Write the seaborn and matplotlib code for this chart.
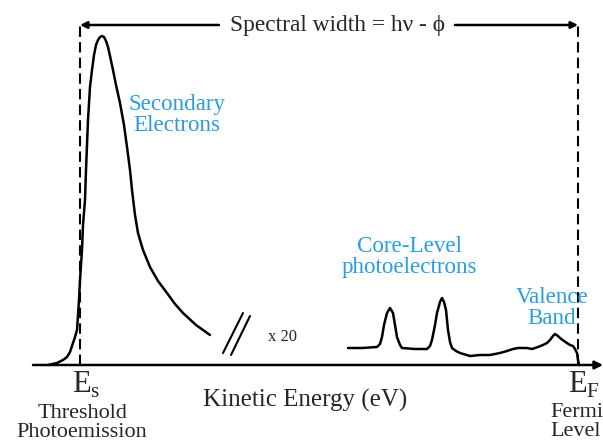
import matplotlib
matplotlib.use("Agg")
import matplotlib.pyplot as plt
import seaborn as sns

# kinetic energy (arbitrary units) and intensity
sec_energy = [48, 57, 63, 67, 70, 73, 75, 77, 78, 79, 80, 82, 83, 85, 86, 88, 90, 92,
              94, 96, 98, 100, 102, 104, 106, 108, 110, 113, 116, 120, 124, 127, 130,
              132, 135, 138, 143, 150, 158, 167, 175, 183, 196, 210]
sec_counts = [0, 2, 5, 8, 13, 22, 28, 35, 50, 65, 85, 115, 140, 165, 195, 245, 278, 295,
              310, 320, 325, 328, 329, 328, 324, 318, 309, 295, 280, 262, 240, 218, 195,
              175, 150, 132, 115, 98, 84, 72, 61, 52, 40, 30]

core_energy = [348, 362, 377, 380, 382, 384, 387, 390, 393, 395, 397, 400, 402, 415,
               427, 430, 432, 435, 437, 440, 442, 444, 446, 448, 450, 452, 456, 460,
               470, 480, 490, 500, 507, 513, 518, 522, 527, 532, 538, 543, 547, 550,
               553, 555, 558, 560, 564, 567, 570, 573, 575, 577, 578, 579]
core_counts = [17, 17, 18, 21, 28, 40, 52, 57, 52, 40, 28, 20, 17, 16,
               16, 19, 25, 40, 52, 63, 67, 63, 55, 35, 23, 17, 14, 12,
               9, 10, 10, 12, 14, 16, 17, 17, 17, 16, 18, 20, 22, 25,
               29, 31, 29, 27, 24, 22, 20, 19, 16, 12, 5, 0]

e_threshold = 80
e_fermi = 578
axis_start, axis_end = 33, 603
top_level = 340

# axis break marks "//"
break_x = [[223, 243], [231, 250]]
break_y = [[12, 52], [10, 49]]

blue = "#2a9de0"

sns.set_theme(style="white")
plt.rcParams["font.family"] = ["Liberation Serif", "DejaVu Serif"]
plt.rcParams["mathtext.fontset"] = "custom"
plt.rcParams["mathtext.rm"] = "Liberation Serif"

fig = plt.figure(figsize=(6.03, 4.42), dpi=100)
ax = fig.add_axes([0, 0, 1, 1])
ax.set_xlim(0, 603)
ax.set_ylim(-77, 365)
ax.axis("off")

line_kw = dict(sort=False, estimator=None, color="black", lw=1.8, ax=ax)
sns.lineplot(x=sec_energy, y=sec_counts, **line_kw)
sns.lineplot(x=core_energy, y=core_counts, **line_kw)
for ln in ax.lines:
    ln.set_solid_joinstyle("round")
    ln.set_solid_capstyle("round")

# energy axis
ax.annotate("", xy=(axis_end, 0), xytext=(axis_start, 0),
            arrowprops=dict(arrowstyle="-|>", lw=1.8, color="black",
                            mutation_scale=12, shrinkA=0, shrinkB=0))

# dashed limits
for xe in (e_threshold, e_fermi):
    ax.plot([xe, xe], [0, top_level], color="black", lw=1.5, ls=(0, (5, 2.5)))

# spectral width arrows
for start, end in ((219, e_threshold), (455, e_fermi)):
    ax.annotate("", xy=(end, top_level), xytext=(start, top_level),
                arrowprops=dict(arrowstyle="-|>", lw=1.8, color="black",
                                mutation_scale=10, shrinkA=0, shrinkB=0))
ax.text(337, top_level, "Spectral width = hν - ϕ", fontsize=16.8,
        ha="center", va="center")

for bx, by in zip(break_x, break_y):
    ax.plot(bx, by, color="black", lw=1.5)
ax.text(282, 28, "x 20", fontsize=12, ha="center", va="center")

# annotations
ax.text(177, 250, "Secondary\nElectrons", color=blue, fontsize=16.6,
        ha="center", va="center", linespacing=1.0)
ax.text(409, 108, "Core-Level\nphotoelectrons", color=blue, fontsize=16.6,
        ha="center", va="center", linespacing=1.0)
ax.text(552, 57, "Valence\nBand", color=blue, fontsize=16.6,
        ha="center", va="center", linespacing=0.95)

ax.text(e_threshold - 8, -28, r"E$_{\mathrm{s}}$", fontsize=22,
        ha="left", va="baseline")
ax.text(e_threshold + 2, -58, "Threshold\nPhotoemission", fontsize=16,
        ha="center", va="center", linespacing=0.95)

ax.text(e_fermi - 10, -28, r"E$_{\mathrm{F}}$", fontsize=22,
        ha="left", va="baseline")
ax.text(550, -57, "Fermi\nLevel", fontsize=16, ha="left", va="center",
        linespacing=0.95)

ax.text(305, -35, "Kinetic Energy (eV)", fontsize=18, ha="center", va="center")

fig.savefig("out.png", dpi=100)
